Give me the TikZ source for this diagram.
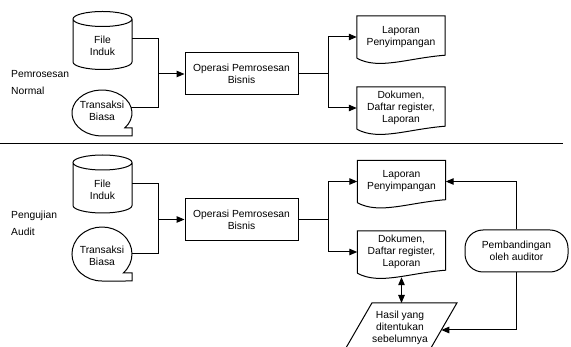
\documentclass[tikz,border=0pt]{standalone}
\usepackage{fontspec}
\setmainfont{Liberation Sans}
\usetikzlibrary{arrows.meta,calc}
\begin{document}
\begin{tikzpicture}[x=1pt,y=1pt,
  ln/.style={line width=1pt},
  arr/.style={ln,-{Triangle[length=8pt,width=6.5pt]}},
  dbl/.style={ln,{Triangle[length=8pt,width=6.5pt]}-{Triangle[length=8pt,width=6.5pt]}},
  txt/.style={align=center,font=\fontsize{10.3}{12}\selectfont,inner sep=0pt},
  box/.style={txt,draw,line width=1pt,minimum width=113pt,minimum height=42pt},
  doc/.style={txt,minimum width=88pt,minimum height=42pt},
  stad/.style={txt,draw,line width=1pt,rounded corners=18pt,minimum width=103pt,minimum height=42pt},
  lab/.style={font=\fontsize{10.3}{12}\selectfont,anchor=west,inner sep=0pt}]
\useasboundingbox (0,0) rectangle (571,-347);
\clip (0,0) rectangle (571,-347);

% ---------- top section ----------
\node[lab] (n1) at (11,-74) {Pemrosesan};
\node[lab] (n2) at (11,-91) {Normal};

\node[txt] (cyl1) at (102.5,-46) {File\\Induk};
\draw[ln,shift={(cyl1.center)}] (0,27) ellipse[x radius=29.5,y radius=7.5]
  (-29.5,27) -- (-29.5,-16) arc[start angle=180,end angle=360,x radius=29.5,y radius=7.5] -- (29.5,27);

\node[txt] (bub1) at (102,-110.5) {Transaksi\\Biasa};
\draw[ln,shift={($(bub1.center)+(0,-2.5)$)}] (22.7,-15)
  arc[start angle=-40.7,end angle=270,x radius=30,y radius=23] -- (30,-23) -- (30,-15) -- cycle;

\node[box] (op1) at (241.5,-74) {Operasi Pemrosesan\\Bisnis};
\node[doc] (lp1) at (401,-37) {Laporan\\Penyimpangan};
\node[doc] (dk1) at (401,-108) {Dokumen,\\Daftar register,\\Laporan};

\coordinate (k1) at ($(op1.west)+(-26,0)$);
\draw[ln] ($(cyl1.center)+(29.5,7)$) -| (k1) |- ($(bub1.center)+(29.4,2.5)$);
\draw[arr] (k1) -- (op1.west);
\draw[ln] (op1.east) -- ++(30,0) coordinate (j1);
\draw[arr] (j1) |- (lp1.west);
\draw[arr] (j1) |- (dk1.west);

% separator
\draw[ln] (0,-144) -- (563,-144);

% ---------- bottom section ----------
\node[lab] (n3) at (11,-216) {Pengujian};
\node[lab] (n4) at (11,-232) {Audit};

\node[txt] (cyl2) at (102.5,-189.5) {File\\Induk};
\draw[ln,shift={(cyl2.center)}] (0,27) ellipse[x radius=29.5,y radius=7.5]
  (-29.5,27) -- (-29.5,-16) arc[start angle=180,end angle=360,x radius=29.5,y radius=7.5] -- (29.5,27);

\node[txt] (bub2) at (102,-255.5) {Transaksi\\Biasa};
\draw[ln,shift={($(bub2.center)+(0,1.5)$)}] (21.3,-19)
  arc[start angle=-44.7,end angle=270,x radius=30,y radius=27] -- (30,-27) -- (30,-19) -- cycle;

\node[box] (op2) at (241.5,-219.5) {Operasi Pemrosesan\\Bisnis};
\node[doc] (lp2) at (401.5,-181.5) {Laporan\\Penyimpangan};
\node[doc] (dk2) at (401.5,-252) {Dokumen,\\Daftar register,\\Laporan};
\node[stad] (cmp) at (516.5,-251) {Pembandingan\\oleh auditor};
\node[txt] (hsl) at (400,-328) {Hasil yang\\ditentukan\\sebelumnya};
\draw[ln,shift={(hsl.center)}] (-28.1,25) -- (56.9,25) -- (28.6,-24) -- (-56.4,-24) -- cycle;

\coordinate (k2) at ($(op2.west)+(-26,0)$);
\draw[ln] ($(cyl2.center)+(29.5,5.5)$) -| (k2) |- ($(bub2.center)+(30,1.5)$);
\draw[arr] (k2) -- (op2.west);
\draw[ln] (op2.east) -- ++(30,0) coordinate (j2);
\draw[arr] (j2) |- (lp2.west);
\draw[arr] (j2) |- (dk2.west);

\draw[arr] (cmp.north) |- (lp2.east);
\draw[arr] (cmp.south) |- ($(hsl.center)+(41.3,-2)$);
\draw[dbl] ($(dk2.south)+(0,-4)$) -- ($(hsl.center)+(1.5,25)$);

% document outlines
\foreach \n in {lp1,dk1,lp2,dk2}
  \draw[ln] (\n.south west) -- (\n.north west) -- (\n.north east) -- ($(\n.south east)+(0,3)$)
    .. controls ($(\n.south east)+(-38,0)$) and ($(\n.south west)+(22,-12)$) .. (\n.south west);
\end{tikzpicture}
\end{document}
